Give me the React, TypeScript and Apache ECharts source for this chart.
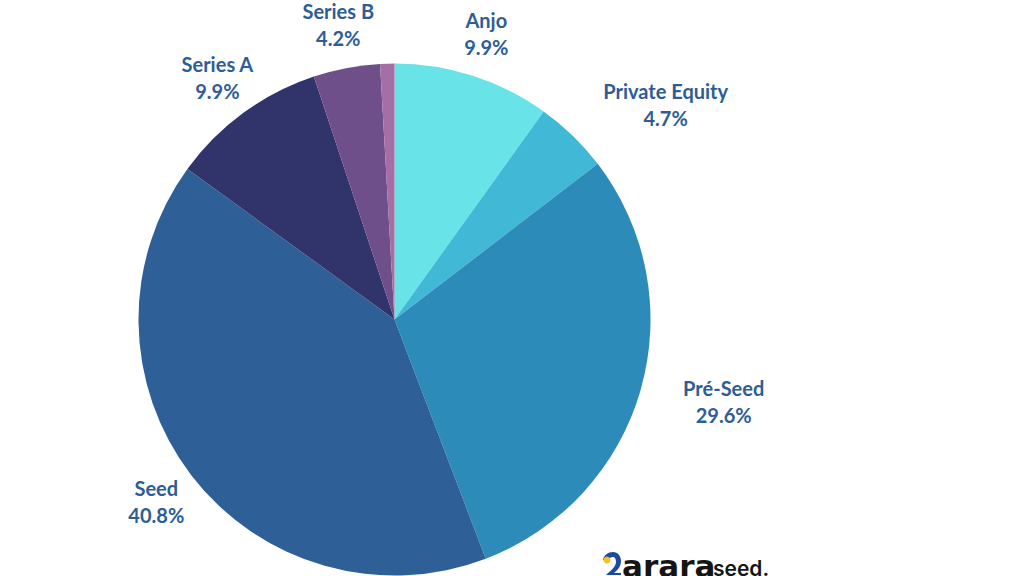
import React, { useEffect, useRef } from "react";
import * as echarts from "echarts";

const categories = ["Anjo", "Private Equity", "Pré-Seed", "Seed", "Series A", "Series B", "Outros"];
const values = [9.9, 4.7, 29.6, 40.8, 9.9, 4.2, 0.9];
const showLabel = [true, true, true, true, true, true, false];
const colors = ["#68e3e7", "#41b8d6", "#2d8bb9", "#2f5f97", "#31346b", "#6e4f8a", "#a56fa6"];

const CX = 394.5;
const CY = 319.5;
const R = 256;
const LABEL_R = 300;
const LABEL_COLOR = "#2e5d96";

echarts.graphic.registerShape(
  "araraBird",
  echarts.graphic.extendPath(
    "M10 0 C15 0 18 4 18 9 C18 14 15 18 11 21 L18 21 L18 23 L3 23 C7 19 13 15 13 10 C13 7 12 5 10 5 C8 5 6 6 5 8 L0 8 C1 3 5 0 10 0 Z",
    {}
  )
);

export default function App() {
  const ref = useRef<HTMLDivElement>(null);
  useEffect(() => {
    if (!ref.current) return;
    const chart = echarts.init(ref.current, null, { renderer: "svg" });
    const total = values.reduce((a, b) => a + b, 0);
    const mids: number[] = [];
    let acc = 0;
    values.forEach((v) => {
      mids.push(((acc + v / 2) / total) * Math.PI * 2);
      acc += v;
    });
    chart.setOption({
      animation: false,
      backgroundColor: "#ffffff",
      series: [
        {
          type: "pie",
          center: [CX, CY],
          radius: [0, R],
          startAngle: 90,
          clockwise: true,
          silent: true,
          avoidLabelOverlap: false,
          itemStyle: { borderWidth: 0 },
          labelLine: { show: false },
          label: {
            position: "outside",
            formatter: (p: any) => `{a|${p.name}}\n{a|${p.value.toFixed(1)}%}`,
            rich: {
              a: {
                fontFamily: "Lato",
                fontWeight: "bold",
                fontSize: 20,
                lineHeight: 27,
                color: LABEL_COLOR,
                align: "center",
              },
            },
          },
          labelLayout: (params: any) => {
            const i = params.dataIndex;
            const t = mids[i];
            const s = Math.sin(t);
            return {
              x: CX + LABEL_R * s,
              y: CY - LABEL_R * Math.cos(t),
              align: s > 0.5 ? "left" : "center",
              verticalAlign: "middle",
            };
          },
          data: categories.map((c, i) => ({
            name: c,
            value: values[i],
            itemStyle: { color: colors[i] },
            label: { show: showLabel[i] },
          })),
        },
      ],
      graphic: [
        {
          type: "araraBird",
          x: 603,
          y: 552,
          scaleX: 1,
          scaleY: 1,
          style: { fill: "#1d4a9e" },
        },
        {
          type: "circle",
          shape: { cx: 607, cy: 560, r: 3.5 },
          style: { fill: "#f4c21b" },
        },
        {
          type: "text",
          x: 622,
          y: 566,
          style: {
            text: "arara",
            fontFamily: "DejaVu Sans",
            fontWeight: "bold",
            fontSize: 31,
            fill: "#151515",
            align: "left",
            verticalAlign: "middle",
          },
        },
        {
          type: "text",
          x: 713,
          y: 568.5,
          style: {
            text: "seed.",
            fontFamily: "Inter",
            fontWeight: 600,
            fontSize: 21,
            fill: "#151515",
            align: "left",
            verticalAlign: "middle",
          },
        },
      ],
    });
    return () => chart.dispose();
  }, []);
  return (
    <div
      ref={ref}
      style={{ position: "fixed", left: 0, top: 0, width: 1024, height: 576 }}
    />
  );
}
